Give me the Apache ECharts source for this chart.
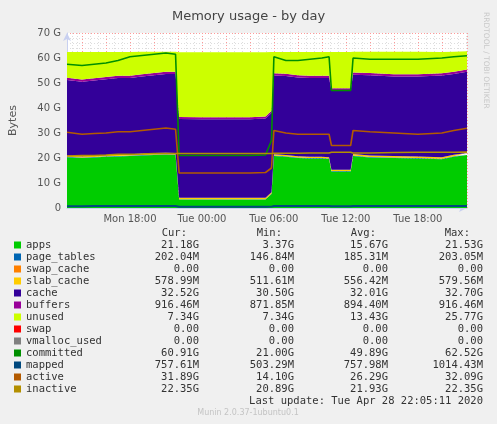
<!DOCTYPE html>
<html><head><meta charset="utf-8">
<script src="https://cdn.jsdelivr.net/npm/echarts@6/dist/echarts.min.js"></script>
<style>html,body{margin:0;background:#f0f0f0}#c{width:497px;height:424px}</style>
</head><body><div id="c"></div>
<script>
// sample times, hours since Mon 00:00 (Apr 27 2020)
var hours = [12.75,14,15,16,17,18,19,20,21,21.8,22.1,24,26,28,29.3,29.8,30,31,32,33,34,34.6,34.8,36.4,36.6,38,40,42,44,45,46.1];
var apps = [20.3,20.0,20.2,20.5,20.6,20.8,21,21.2,21.3,21.2,3.4,3.4,3.4,3.4,3.4,5.6,20.8,20.5,20,19.8,19.8,19.6,14.6,14.6,20.8,20.2,20,19.8,19.5,20.5,21.2];
var pageTables = [0.19,0.19,0.19,0.19,0.19,0.19,0.19,0.2,0.2,0.2,0.15,0.15,0.15,0.15,0.15,0.16,0.19,0.19,0.19,0.19,0.19,0.19,0.18,0.18,0.2,0.2,0.2,0.2,0.2,0.2,0.2];
var swapCache = [0,0,0,0,0,0,0,0,0,0,0,0,0,0,0,0,0,0,0,0,0,0,0,0,0,0,0,0,0,0,0];
var slabCache = [0.56,0.56,0.56,0.56,0.56,0.56,0.57,0.57,0.57,0.57,0.52,0.52,0.52,0.52,0.52,0.53,0.56,0.56,0.56,0.56,0.56,0.56,0.55,0.55,0.57,0.57,0.57,0.57,0.58,0.58,0.58];
var cache = [30.2,29.8,30.1,30.3,30.7,30.5,30.8,31.1,31.5,31.6,31.5,31.4,31.4,31.4,31.7,31.7,31.5,31.6,31.5,31.5,31.5,31.7,31.7,31.7,31.7,32.1,31.8,32.0,32.7,32.3,32.5];
var buffers = [0.9,0.9,0.9,0.9,0.9,0.9,0.9,0.9,0.9,0.9,0.88,0.88,0.88,0.88,0.88,0.88,0.9,0.9,0.9,0.9,0.9,0.9,0.89,0.89,0.9,0.9,0.9,0.9,0.91,0.92,0.92];
var unused = [10.3,11,10.5,10,9.5,9.5,9,8.5,8,8,25.9,26,26,26,25.7,23.5,8.5,8.7,9.3,9.5,9.5,9.5,14.5,14.5,8.3,8.5,9,9,8.5,8,7.3];
var committed = [57.5,57,57.5,58,59,60.5,61,61.5,62,61.5,21,21,21,21,21.2,27,60.5,59,59,59.5,60,60.5,47,47,60,59.5,59.5,59.5,60,60.5,60.9];
var mapped = [0.75,0.75,0.76,0.76,0.76,0.77,0.77,0.78,0.78,0.78,0.52,0.51,0.51,0.51,0.52,0.55,0.78,0.78,0.78,0.77,0.77,0.77,0.7,0.7,0.78,0.78,0.77,0.77,0.76,0.76,0.76];
var active = [30.3,29.5,29.8,30,30.5,30.5,31,31.5,32,31.5,14,14,14,14,14.2,16,31,30,29.5,29.5,29.5,29.5,25,25,31,30.5,30,29.5,30,31,31.9];
var inactive = [20.8,21,21,21.2,21.5,21.5,21.6,21.8,21.8,21.8,21.8,21.8,21.8,21.8,21.8,21.8,21.9,21.9,21.9,22,22,22,22.3,22.3,22,22,22.2,22.3,22.3,22.3,22.35];
var yTicks = ['0','10 G','20 G','30 G','40 G','50 G','60 G','70 G'];

var legendRows = [
  ['apps','#00cc00','21.18G','3.37G','15.67G','21.53G'],
  ['page_tables','#0066b3','202.04M','146.84M','185.31M','203.05M'],
  ['swap_cache','#ff8000','0.00','0.00','0.00','0.00'],
  ['slab_cache','#ffcc00','578.99M','511.61M','556.42M','579.56M'],
  ['cache','#330099','32.52G','30.50G','32.01G','32.70G'],
  ['buffers','#990099','916.46M','871.85M','894.40M','916.46M'],
  ['unused','#ccff00','7.34G','7.34G','13.43G','25.77G'],
  ['swap','#ff0000','0.00','0.00','0.00','0.00'],
  ['vmalloc_used','#808080','0.00','0.00','0.00','0.00'],
  ['committed','#008f00','60.91G','21.00G','49.89G','62.52G'],
  ['mapped','#00487d','757.61M','503.29M','757.98M','1014.43M'],
  ['active','#b35a00','31.89G','14.10G','26.29G','32.09G'],
  ['inactive','#b38f00','22.35G','20.89G','21.93G','22.35G']
];

var H = 3600e3;
var base = new Date(2020,3,27,0,0,0).getTime();
function pts(arr){ return arr.map(function(v,i){ return [base + hours[i]*H, v]; }); }

var chart = echarts.init(document.getElementById('c'));
function area(name, data, color){
  return {name:name, type:'line', stack:'mem', data:pts(data), showSymbol:false, silent:true,
    lineStyle:{width:0}, itemStyle:{color:color}, areaStyle:{color:color, opacity:1}};
}
function line(name, data, color, w){
  return {name:name, type:'line', data:pts(data), showSymbol:false, silent:true,
    lineStyle:{width:w||1.6, color:color}, itemStyle:{color:color}};
}

var mono = 'DejaVu Sans Mono';
var g = [];
var cols = [187, 282, 376, 470];
['Cur:','Min:','Avg:','Max:'].forEach(function(h,i){
  g.push({type:'text', x:cols[i], y:233, style:{text:h, font:'10.5px '+mono, fill:'#333', align:'right', verticalAlign:'middle'}});
});
var vcols = [199, 294, 388, 483];
legendRows.forEach(function(r,i){
  var y = 245 + i*12;
  g.push({type:'rect', shape:{x:14,y:y-3.5,width:7,height:7}, style:{fill:r[1]}});
  g.push({type:'text', x:26, y:y, style:{text:r[0], font:'10.5px '+mono, fill:'#333', verticalAlign:'middle'}});
  for (var k=0;k<4;k++) g.push({type:'text', x:vcols[k], y:y, style:{text:r[k+2], font:'10.5px '+mono, fill:'#333', align:'right', verticalAlign:'middle'}});
});
g.push({type:'text', x:483, y:401, style:{text:'Last update: Tue Apr 28 22:05:11 2020', font:'10.5px '+mono, fill:'#333', align:'right', verticalAlign:'middle'}});
g.push({type:'text', x:248, y:413, style:{text:'Munin 2.0.37-1ubuntu0.1', font:'8px DejaVu Sans', fill:'#c4c4c4', align:'center', verticalAlign:'middle'}});
g.push({type:'text', x:486, y:12, rotation:-Math.PI/2, style:{text:'RRDTOOL / TOBI OETIKER', font:'7.5px DejaVu Sans', fill:'#c8c8c8', verticalAlign:'middle'}});

chart.setOption({
  backgroundColor:'#f0f0f0',
  animation:false,
  title:{text:'Memory usage - by day', left:'center', top:5, textStyle:{fontFamily:'DejaVu Sans', fontSize:13, fontWeight:'normal', color:'#444'}},
  grid:{left:67, right:30, top:33, bottom:216, show:true, backgroundColor:'#ffffff', borderWidth:0},
  xAxis:{type:'time', min:base+12.75*H, max:base+46.1*H, minInterval:3*H, maxInterval:3*H,
    axisLine:{show:true, lineStyle:{color:'#c8d0f0'}, symbol:['none','arrow'], symbolSize:[6,8]},
    axisTick:{show:false},
    axisLabel:{color:'#555', fontFamily:'DejaVu Sans', fontSize:10, margin:6, showMinLabel:false, showMaxLabel:false, hideOverlap:false,
      formatter:function(v){ var d=new Date(v); if(d.getHours()%6 || d.getMinutes()) return ''; return ['Sun','Mon','Tue','Wed'][d.getDay()]+' '+String(d.getHours()).padStart(2,'0')+':00'; }},
    splitLine:{show:true, lineStyle:{color:'#ff9999', type:[1,2], width:1}},
    minorTick:{show:false, splitNumber:3},
    minorSplitLine:{show:true, lineStyle:{color:'#dddddd', type:[1,2]}}
  },
  yAxis:{type:'value', min:0, max:70, interval:10, name:'Bytes', nameLocation:'middle', nameGap:48, nameRotate:90,
    nameTextStyle:{color:'#555', fontFamily:'DejaVu Sans', fontSize:11},
    axisLine:{show:true, lineStyle:{color:'#c8d0f0'}, symbol:['none','arrow'], symbolSize:[6,8]},
    axisTick:{show:false},
    axisLabel:{color:'#555', fontFamily:'DejaVu Sans', fontSize:10, margin:6, formatter:function(v){ return yTicks[v/10]; }},
    splitLine:{lineStyle:{color:'#ff9999', type:[1,2]}},
    minorTick:{show:false, splitNumber:5},
    minorSplitLine:{show:true, lineStyle:{color:'#dddddd', type:[1,2]}}
  },
  series:[
    area('apps', apps, '#00cc00'),
    area('page_tables', pageTables, '#0066b3'),
    area('swap_cache', swapCache, '#ff8000'),
    area('slab_cache', slabCache, '#ffcc00'),
    area('cache', cache, '#330099'),
    area('buffers', buffers, '#990099'),
    area('unused', unused, '#ccff00'),
    line('committed', committed, '#008f00'),
    line('mapped', mapped, '#00487d', 2),
    line('active', active, '#b35a00'),
    line('inactive', inactive, '#b38f00')
  ],
  graphic:g
});
</script></body></html>
